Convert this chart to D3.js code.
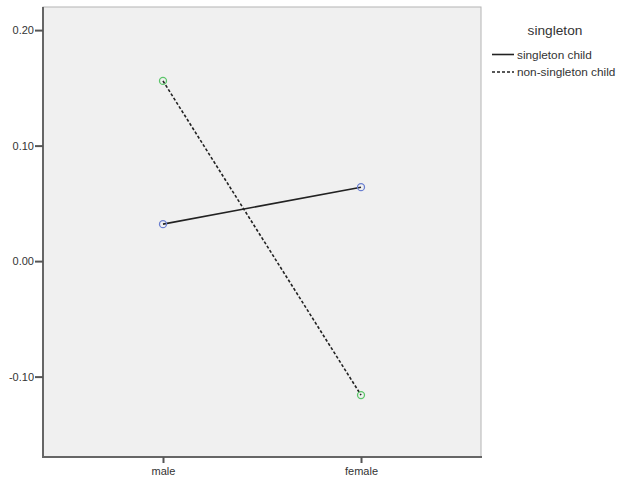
<!DOCTYPE html>
<meta charset="utf-8">
<script src="https://d3js.org/d3.v7.min.js"></script>
<style>
  body { margin: 0; background: #fff; }
  text { font-family: "Liberation Sans", Arial, sans-serif; fill: #333; }
</style>
<div id="chart"></div>
<script>
  // data
  var genders = ["male", "female"];
  var singletonChild = [0.032, 0.064];
  var nonSingletonChild = [0.156, -0.116];
  var yTicks = [-0.10, 0.00, 0.10, 0.20];
  var seriesNames = ["singleton child", "non-singleton child"];

  var svgW = 617, svgH = 481;
  var plot = {left: 43, top: 7, right: 481, bottom: 457};

  var svg = d3.select("#chart").append("svg")
    .attr("width", svgW)
    .attr("height", svgH);

  var x = d3.scalePoint()
    .domain(genders)
    .range([plot.left, plot.right])
    .padding(0.606);

  var y = d3.scaleLinear()
    .domain([-0.1696, 0.2200])
    .range([plot.bottom, plot.top]);

  // plot background
  svg.append("rect")
    .attr("x", plot.left).attr("y", plot.top)
    .attr("width", plot.right - plot.left)
    .attr("height", plot.bottom - plot.top)
    .attr("fill", "#f0f0f0")
    .attr("stroke", "#b4b4b4")
    .attr("stroke-width", 1);

  // axes
  var fmt = function(d) { return d3.format(".2f")(d).replace("\u2212", "-"); };
  var yAxis = svg.append("g")
    .attr("transform", "translate(" + plot.left + ",0)")
    .call(d3.axisLeft(y).tickValues(yTicks).tickFormat(fmt).tickSize(8).tickPadding(1).tickSizeOuter(0));
  var xAxis = svg.append("g")
    .attr("transform", "translate(0," + plot.bottom + ")")
    .call(d3.axisBottom(x).tickSize(6).tickSizeOuter(0));

  [yAxis, xAxis].forEach(function(g) {
    g.select(".domain").attr("stroke", "#666").attr("stroke-width", 2);
    g.selectAll(".tick line").attr("stroke", "#555").attr("stroke-width", 2);
    g.selectAll(".tick text").style("font-size", "11px").attr("fill", "#333");
  });
  xAxis.selectAll(".tick text").attr("y", 10);
  // extend the bottom domain to the right edge
  xAxis.select(".domain").attr("d", "M" + (plot.left - 1) + ",0H" + (plot.right + 1));
  yAxis.select(".domain").attr("d", "M0," + plot.top + "V" + (plot.bottom + 1));

  var series = [
    {name: seriesNames[0], values: singletonChild, dash: null, dot: "#6a7fd0"},
    {name: seriesNames[1], values: nonSingletonChild, dash: "3,2", dot: "#5cc56a"}
  ];

  var line = d3.line()
    .x(function(d, i) { return x(genders[i]); })
    .y(function(d) { return y(d); });

  series.forEach(function(s) {
    svg.append("path")
      .datum(s.values)
      .attr("d", line)
      .attr("fill", "none")
      .attr("stroke", "#222")
      .attr("stroke-width", 1.6)
      .attr("stroke-dasharray", s.dash);
    svg.selectAll(null)
      .data(s.values)
      .enter()
      .append("circle")
        .attr("cx", function(d, i) { return x(genders[i]); })
        .attr("cy", function(d) { return y(d); })
        .attr("r", 3.5)
        .attr("fill", "none")
        .attr("stroke", s.dot)
        .attr("stroke-width", 1.3);
  });

  // legend
  svg.append("text")
    .attr("x", 555).attr("y", 35)
    .attr("text-anchor", "middle")
    .style("font-size", "13.7px")
    .text("singleton");

  series.forEach(function(s, i) {
    var ly = 54.5 + i * 17.5;
    svg.append("line")
      .attr("x1", 492).attr("x2", 514)
      .attr("y1", ly).attr("y2", ly)
      .attr("stroke", "#222")
      .attr("stroke-width", 1.6)
      .attr("stroke-dasharray", s.dash);
    svg.append("text")
      .attr("x", 517).attr("y", ly + 4)
      .style("font-size", "11.8px")
      .text(s.name);
  });
</script>
